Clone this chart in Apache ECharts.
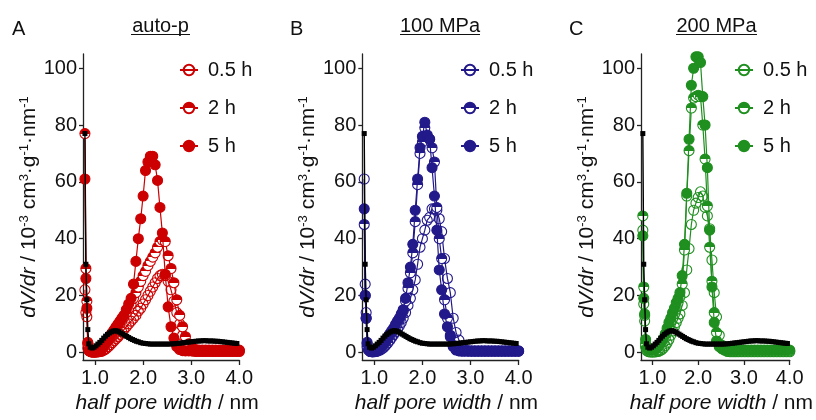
<!DOCTYPE html>
<html><head><meta charset="utf-8">
<script src="https://cdn.jsdelivr.net/npm/echarts@6/dist/echarts.min.js"></script>
<style>html,body{margin:0;padding:0;background:#fff}#c{width:816px;height:420px}</style>
</head><body><div id="c"></div>
<script>
// ---------- data ----------
const xs = [0.79,0.81,0.83,0.85,0.88, 0.92,0.96,1.00,1.04,1.08, 1.12,1.16,1.20,1.24,1.28,
  1.32,1.36,1.40,1.44,1.48, 1.52,1.56,1.60,1.65,1.70, 1.75,1.80,1.85,1.90,1.95,
  2.00,2.05,2.10,2.15,2.20, 2.25,2.30,2.35,2.40,2.46, 2.52,2.58,2.64,2.70,2.76,
  2.82,2.88,2.95,3.02,3.09, 3.16,3.23,3.30,3.37,3.44, 3.51,3.58,3.65,3.72,3.79,
  3.86,3.93,4.00];

const aHalf = [22,14,12.5,1.5,0.5, 0.2,0.1,0.1,0.1,0.2, 0.3,0.5,0.9,1.4,2.0,
  2.7,3.4,4.1,4.8,5.5, 6.3,7.1,8.0,9.0,10.0, 11,12,13,14.5,15.5,
  17,18.5,20,21.5,23, 24.5,26,27,27.5,27, 25,22,18,14,10,
  6,2.5,1,0.5,0.3, 0.3,0.3,0.3,0.3,0.3, 0.3,0.3,0.3,0.3,0.3, 0.3,0.3,0.3];
const aTwo = [77,29.5,18,3,0.5, 0.2,0.1,0.1,0.2,0.4, 0.8,1.5,2.5,3.5,4.5,
  5.5,6.5,7.5,8.5,9.5, 10.5,11.5,12.5,14,15.5, 17,19,21,23,25,
  27,28.5,30.5,32,33.5, 35,37,39,39.5,39, 34,29.5,24.5,18.5,13,
  9,5.5,3,1.5,1.0, 0.8,0.8,0.8,0.8,0.8, 0.8,0.8,0.8,0.8,0.8, 0.8,0.8,0.8];
const aFive = [61,26,15.5,3.5,0.5, 0.2,0.1,0.2,0.3,0.6, 1.0,1.8,2.8,3.8,5.0,
  6.0,7.0,8.0,9.0,10.0, 11.0,12.0,13.0,15.0,17.0, 19,24,32,40,47,
  55,64,67,69,69, 66,60.5,51,42,27.5, 16,9,5,2,1.0,
  0.6,0.5,0.5,0.5,0.5, 0.5,0.5,0.5,0.5,0.5, 0.5,0.5,0.5,0.5,0.5, 0.5,0.5,0.5];

const bHalf = [61,24,14,3,1, 0.3,0.2,0.2,0.3,0.5, 0.8,1.2,1.8,2.5,3.3,
  4.2,5.2,6.2,7.2,8.2, 9.2,10.5,12,14,16.5, 19,22,25.5,31,37,
  40,43,46.5,47.5,50.5, 50.5,50,47,42.5,33, 26,21,12,7,4.3,
  1.5,0.8,0.5,0.4,0.4, 0.4,0.4,0.4,0.4,0.4, 0.4,0.4,0.4,0.4,0.4, 0.4,0.4,0.4];
const bTwo = [45,20,12,2,0.8, 0.3,0.2,0.3,0.5,0.9, 1.4,2.1,3.0,4.0,5.0,
  6.0,7.0,8.0,9.0,10.2, 11.5,13,14.5,18,22.5, 28,35,46,59,70,
  74,79,76,75,72, 67,51,40,33,18.5, 12,6,2.5,1,0.6,
  0.5,0.5,0.5,0.5,0.5, 0.5,0.5,0.5,0.5,0.5, 0.5,0.5,0.5,0.5,0.5, 0.5,0.5,0.5];
const bFive = [50.5,20,12,3.5,1, 0.3,0.2,0.3,0.6,1.0, 1.6,2.4,3.3,4.3,5.4,
  6.5,7.5,8.5,9.8,11, 12,13.5,15,19,24.5, 30,38,50,61,72,
  76,81,76.5,75,65, 55,43,29,22,13.5, 9,5.5,2,0.8,0.5,
  0.4,0.4,0.4,0.4,0.4, 0.4,0.4,0.4,0.4,0.4, 0.4,0.4,0.4,0.4,0.4, 0.4,0.4,0.4];

const cHalf = [43,17,11,2,0.5, 0.2,0.1,0.1,0.1,0.2, 0.3,0.5,0.9,1.5,2.3,
  3.3,4.5,6,7.5,9, 10.5,12,13.5,16.5,21, 29,36.5,45,50,52.5,
  54.5,56.5,55,51,48, 43.5,32.5,21,12.5,6, 2.5,1,0.3,0.2,0.2,
  0.2,0.2,0.2,0.2,0.2, 0.2,0.2,0.2,0.2,0.2, 0.2,0.2,0.2,0.2,0.2, 0.2,0.2,0.2];
const cTwo = [48,23,13,3,1, 0.5,0.3,0.3,0.4,0.6, 1.0,1.6,2.5,3.7,5.2,
  7.0,9.0,11,13,14.5, 16,17.5,19.5,24,36, 55,71,86,89.5,90,
  90.5,90,80,68,51.5, 37,25,14,7,3, 1.5,0.8,0.5,0.5,0.5,
  0.5,0.5,0.5,0.5,0.5, 0.5,0.5,0.5,0.5,0.5, 0.5,0.5,0.5,0.5,0.5, 0.5,0.5,0.5];
const cFive = [41,19,13.5,4.5,1.5, 1.0,0.8,0.8,0.9,1.2, 1.8,2.6,3.6,4.8,6.5,
  8.5,10.5,12,14,15.5, 17.5,19,21,27,38, 56,75,94,100,104,
  104,102,90,80,65, 43,23,10.5,4,2, 1.2,0.8,0.8,0.8,0.8,
  0.8,0.8,0.8,0.8,0.8, 0.8,0.8,0.8,0.8,0.8, 0.8,0.8,0.8,0.8,0.8, 0.8,0.8,0.8];

// black reference curve (same in all panels)
const xsRef = [0.79,0.81,0.83,0.85,0.87,0.90,0.94,0.98,1.02,1.06,
  1.10,1.14,1.18,1.22,1.26,1.30,1.34,1.38,1.42,1.46,
  1.50,1.54,1.58,1.62,1.66,1.70,1.74,1.78,1.82,1.86,
  1.90,1.95,2.00,2.05,2.10,2.15,2.20,2.25,2.30,2.35,
  2.40,2.45,2.50,2.55,2.60,2.65,2.70,2.75,2.80,2.85,
  2.90,2.95,3.00,3.05,3.10,3.15,3.20,3.25,3.30,3.35,
  3.40,3.45,3.50,3.55,3.60,3.65,3.70,3.75,3.80,3.85,
  3.90,3.95];
const refY = [77,31,18.5,8,3,1.8,1.5,1.8,2.3,2.9,
  3.5,4.2,5.0,5.7,6.3,6.8,7.2,7.5,7.6,7.5,
  7.2,6.8,6.4,6.0,5.6,5.2,4.8,4.5,4.2,3.9,
  3.7,3.4,3.2,3.1,3.0,2.9,2.9,2.9,2.9,2.9,
  2.9,2.9,2.9,2.9,3.0,3.0,3.1,3.2,3.3,3.4,
  3.5,3.6,3.7,3.8,3.9,4.0,4.0,4.1,4.1,4.0,
  4.0,4.0,3.9,3.9,3.8,3.7,3.6,3.5,3.4,3.3,
  3.2,3.1];

const panels = ['A', 'B', 'C'];
const titles = ['auto-p', '100 MPa', '200 MPa'];
const legendNames = ['0.5 h', '2 h', '5 h'];
const xTicks = [1, 2, 3, 4];
const yTicks = [0, 20, 40, 60, 80, 100];

// ---------- layout / style ----------
const FONT = '"Liberation Sans", Arial, Helvetica, sans-serif';
const TXT = '#111';
const colors = ['#cc0000', '#22198a', '#1f8f1f'];
const panelData = [[aHalf, aTwo, aFive], [bHalf, bTwo, bFive], [cHalf, cTwo, cFive]];
const gridLefts = [83, 362.3, 641];
const gridTop = 54, gridH = 306, gridW = 156.3;
const legendLefts = [174, 455, 729];
const letterX = [12, 290, 569];
const titleCx = [160.5, 440, 716.5];
const titleHalfW = [29.5, 40, 40.5];

function halfFill(c) {
  return { type: 'linear', x: 0, y: 0, x2: 0, y2: 1,
    colorStops: [{offset: 0, color: c}, {offset: 0.5, color: c},
                 {offset: 0.5, color: '#ffffff'}, {offset: 1, color: '#ffffff'}] };
}

const series = [];
panels.forEach((p, i) => {
  const c = colors[i];
  const fills = ['rgba(255,255,255,0)', halfFill(c), c];
  panelData[i].forEach((ys, k) => {
    series.push({
      type: 'line', name: p + '|' + legendNames[k],
      xAxisIndex: i, yAxisIndex: i,
      data: xs.map((x, j) => [x, ys[j]]),
      symbol: 'circle', symbolSize: 10, showAllSymbol: true,
      lineStyle: {color: c, width: 1.2},
      itemStyle: {color: fills[k], borderColor: c, borderWidth: 1.1},
      emphasis: {disabled: true}, z: 2 + k
    });
  });
  series.push({
    type: 'line', name: 'ref' + p, xAxisIndex: i, yAxisIndex: i,
    data: xsRef.map((x, j) => [x, refY[j]]),
    symbol: 'rect', symbolSize: 5, showAllSymbol: true,
    lineStyle: {color: '#000', width: 1.4},
    itemStyle: {color: '#000'},
    emphasis: {disabled: true}, z: 6
  });
});

const graphic = [];
panels.forEach((p, i) => {
  graphic.push({type: 'text', x: letterX[i], y: 29.5,
    style: {text: p, fontSize: 20, fontFamily: FONT, fill: TXT, align: 'left', verticalAlign: 'middle'}});
  graphic.push({type: 'text', x: titleCx[i], y: 26.5,
    style: {text: titles[i], fontSize: 20, fontFamily: FONT, fill: TXT, align: 'center', verticalAlign: 'middle'}});
  graphic.push({type: 'line',
    shape: {x1: titleCx[i] - titleHalfW[i], y1: 34.5, x2: titleCx[i] + titleHalfW[i], y2: 34.5},
    style: {stroke: TXT, lineWidth: 1.2}});
});

const option = {
  animation: false,
  backgroundColor: '#fff',
  grid: gridLefts.map(l => ({left: l, top: gridTop, width: gridW, height: gridH})),
  xAxis: panels.map((p, i) => ({
    gridIndex: i, type: 'value', min: 0.75, max: 4.0,
    axisLine: {show: true, onZero: false, lineStyle: {color: '#222', width: 1.3}},
    axisTick: {show: true, customValues: xTicks, length: 5, lineStyle: {color: '#222', width: 1.3}},
    axisLabel: {customValues: xTicks, formatter: v => v.toFixed(1), fontSize: 20, color: TXT, fontFamily: FONT, margin: 8},
    splitLine: {show: false},
    name: '{i|half pore width} / nm', nameLocation: 'middle', nameGap: 32,
    nameTextStyle: {fontSize: 21, color: TXT, fontFamily: FONT, padding: [0, 0, 0, 12],
      rich: {i: {fontStyle: 'italic', fontSize: 21, color: TXT, fontFamily: FONT}}}
  })),
  yAxis: panels.map((p, i) => ({
    gridIndex: i, type: 'value', min: -2.7, max: 105,
    axisLine: {show: true, onZero: false, lineStyle: {color: '#222', width: 1.3}},
    axisTick: {show: true, customValues: yTicks, length: 4, lineStyle: {color: '#222', width: 1.3}},
    axisLabel: {customValues: yTicks, fontSize: 20, color: TXT, fontFamily: FONT, margin: 6},
    splitLine: {show: false},
    name: '{i|dV/dr} / 10{s|-3} cm{s|3}\u00b7g{s|-1}\u00b7nm{s|-1}',
    nameLocation: 'middle', nameGap: 42, nameRotate: 90,
    nameTextStyle: {fontSize: 21, color: TXT, fontFamily: FONT, lineHeight: 22,
      rich: {i: {fontStyle: 'italic', fontSize: 21, color: TXT, fontFamily: FONT, lineHeight: 22},
             s: {fontSize: 13, color: TXT, fontFamily: FONT, verticalAlign: 'top', lineHeight: 13}}}
  })),
  legend: panels.map((p, i) => ({
    data: legendNames.map(n => p + '|' + n),
    orient: 'vertical', left: legendLefts[i], top: 54,
    itemWidth: 18, itemHeight: 13, itemGap: 16, selectedMode: false,
    formatter: n => n.split('|')[1],
    textStyle: {fontSize: 20, color: TXT, fontFamily: FONT, lineHeight: 22, padding: [0, 0, 0, 5]}
  })),
  graphic: graphic,
  series: series
};

const chart = echarts.init(document.getElementById('c'), null, {renderer: 'canvas'});
chart.setOption(option);
</script>
</body></html>
